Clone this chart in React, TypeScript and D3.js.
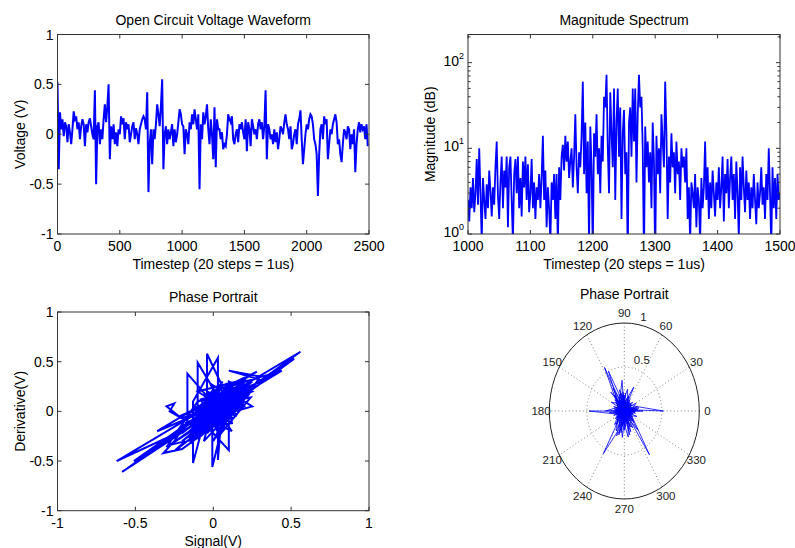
import React from 'react';
import * as d3 from 'd3';

// ---------------- DATA ----------------
const waveStep = 10; // timesteps between samples
const waveform = [
  0.52, -0.35, 0.22, 0.05, 0.15, -0.02, 0.12, 0.08, -0.08, 0.1,
  0.02, -0.1, 0.05, 0.23, 0.15, 0.18, 0.05, 0.12, -0.05, 0.08,
  0.15, 0.1, -0.12, 0.1, 0.02, 0.12, 0.16, 0.08, 0.0, -0.05,
  0.44, -0.5, 0.08, 0.12, -0.1, 0.05, -0.05, 0.15, 0.3, 0.12,
  0.28, 0.5, -0.25, 0.08, -0.05, 0.1, -0.1, 0.02, -0.12, 0.05,
  0.0, 0.18, 0.1, 0.16, -0.05, 0.12, 0.05, 0.1, -0.08, 0.0,
  0.08, 0.12, -0.05, 0.06, 0.0, -0.1, 0.05, 0.1, 0.15, 0.18,
  0.15, 0.05, 0.42, -0.58, -0.1, 0.05, -0.3, 0.05, -0.05, 0.1,
  0.3, 0.2, 0.08, 0.28, 0.55, -0.35, 0.0, 0.08, -0.1, 0.05,
  -0.05, 0.02, 0.1, -0.12, 0.05, -0.08, 0.0, 0.12, 0.25, 0.2,
  0.1, 0.08, -0.2, 0.05, 0.0, -0.1, 0.12, 0.05, 0.2, 0.1,
  0.25, 0.15, 0.05, 0.2, -0.55, 0.1, -0.05, 0.22, 0.1, 0.18,
  0.3, 0.05, -0.1, 0.15, 0.0, -0.25, 0.27, -0.33, 0.15, 0.05,
  0.05, -0.05, 0.02, -0.15, -0.1, -0.12, 0.0, 0.2, 0.15, 0.12,
  0.18, -0.05, -0.1, 0.0, 0.05, -0.08, 0.1, 0.05, 0.12, 0.02,
  -0.05, 0.15, -0.17, 0.12, 0.05, -0.12, 0.15, 0.08, 0.0, 0.05,
  -0.05, 0.1, 0.15, 0.05, 0.12, -0.05, 0.08, 0.44, -0.25, 0.1,
  0.05, -0.05, 0.0, -0.1, 0.05, -0.08, 0.02, -0.15, -0.05, 0.08,
  0.05, 0.0, 0.12, 0.2, 0.1, 0.05, -0.05, 0.08, -0.15, -0.1,
  0.0, 0.05, -0.1, 0.1, 0.15, 0.24, -0.05, -0.3, -0.15, 0.0,
  0.1, 0.05, 0.15, 0.2, 0.18, 0.1, -0.05, -0.1, -0.2, -0.62,
  -0.2, 0.05, 0.1, -0.05, 0.18, 0.1, 0.15, -0.25, -0.1, 0.05,
  0.0, 0.1, 0.15, 0.2, 0.12, -0.1, -0.05, -0.2, -0.28, -0.1,
  0.05, 0.02, -0.05, 0.08, 0.05, -0.15, 0.0, -0.1, 0.05, -0.38,
  -0.1, 0.05, 0.12, 0.02, 0.1, 0.05, 0.08, -0.05, 0.1, -0.12,
];

const specStart = 1000;
const specStep = 2;
const spectrum = [
  2.5, 1.4, 3.5, 2.0, 4.5, 1.8, 3.0, 7.5, 2.2, 10,
  3.0, 0.8, 4.5, 2.5, 1.5, 3.8, 2.0, 5.5, 3.2, 1.6,
  3.5, 2.2, 6.0, 12, 2.8, 1.5, 4.0, 8.0, 2.0, 5.5,
  3.5, 8.0, 1.2, 6.0, 8.0, 2.5, 0.8, 5.0, 7.5, 3.0,
  8.0, 2.0, 4.5, 1.6, 7.0, 3.5, 8.0, 2.5, 6.5, 1.8,
  3.0, 7.5, 2.0, 4.0, 1.5, 3.5, 2.5, 5.0, 2.0, 4.5,
  14, 2.5, 5.5, 1.2, 3.5, 2.0, 0.8, 4.0, 2.5, 5.0,
  1.5, 5.0, 0.7, 6.0, 2.5, 8.0, 11, 5.5, 14, 7.0,
  12, 4.5, 7.0, 10, 3.5, 8.0, 25, 6.0, 3.0, 9.0,
  6.0, 14, 60, 5.0, 20, 3.0, 12, 0.7, 18, 6.0,
  0.6, 15, 8.0, 25, 5.0, 10, 3.0, 14, 7.0, 40,
  30, 72, 10, 3.0, 45, 15, 6.0, 50, 2.5, 20,
  50, 8.0, 30, 1.5, 15, 28, 5.0, 9.0, 0.5, 20,
  30, 8.0, 50, 12, 50, 4.0, 25, 72, 30, 40,
  10, 0.5, 18, 6.0, 12, 4.0, 9.0, 2.0, 20, 7.0,
  0.5, 14, 5.0, 10, 3.0, 25, 12, 6.0, 60, 15,
  1.5, 8.0, 4.0, 15, 6.0, 9.0, 3.0, 12, 5.0, 7.0,
  2.5, 10, 6.0, 8.0, 4.0, 10, 1.5, 3.5, 0.8, 4.0,
  3.0, 2.0, 5.0, 1.2, 3.5, 2.5, 0.8, 4.5, 2.0, 3.5,
  12, 2.5, 6.0, 1.5, 4.0, 2.0, 5.5, 3.0, 1.6, 4.0,
  2.5, 6.0, 2.0, 3.5, 8.0, 1.4, 5.0, 3.0, 7.5, 2.0,
  4.5, 8.0, 2.5, 5.0, 1.5, 7.0, 3.0, 0.9, 6.0, 2.5,
  8.0, 3.5, 1.8, 5.5, 2.5, 4.0, 1.5, 3.5, 2.0, 5.0,
  2.5, 1.3, 4.0, 2.0, 3.0, 6.0, 2.2, 3.5, 1.5, 5.0,
  2.5, 10, 3.0, 0.7, 6.0, 2.0, 4.5, 1.5, 5.0, 2.5,
  3.0,
];

// [signal, derivative]
const portraitPoints: [number, number][] = [
  [0.0, 0.0], [0.1, 0.15], [-0.05, -0.1], [0.15, 0.2], [0.05, 0.05], [-0.1, -0.15],
  [0.2, 0.25], [-0.15, -0.2], [0.56, 0.6], [-0.62, -0.5], [0.0, -0.05], [0.12, 0.1],
  [-0.08, 0.05], [0.05, -0.15], [0.2, 0.1], [-0.12, -0.25], [0.08, 0.18], [-0.04, 0.58],
  [-0.04, -0.1], [0.1, 0.05], [-0.15, -0.05], [0.25, 0.3], [-0.2, -0.3], [0.52, 0.53],
  [-0.585, -0.61], [0.05, 0.1], [-0.1, 0.49], [-0.1, -0.2], [0.15, 0.12], [0.0, -0.3],
  [0.18, 0.28], [-0.05, 0.0], [0.1, -0.1], [-0.166, 0.38], [-0.166, -0.1], [-0.25, -0.3],
  [-0.32, -0.42], [-0.2, -0.38], [0.0, -0.15], [0.22, 0.15], [0.3, 0.35], [0.1, 0.41],
  [0.32, 0.31], [0.15, 0.2], [-0.05, -0.05], [-0.13, -0.52], [-0.13, 0.1], [0.03, 0.54],
  [0.03, -0.49], [0.06, 0.08], [-0.2, -0.07], [-0.28, 0.0], [-0.25, 0.08], [-0.3, 0.05],
  [-0.22, -0.05], [0.0, 0.1], [0.2, 0.05], [0.12, 0.25], [-0.006, -0.56], [-0.006, 0.2],
  [0.44, 0.41], [-0.51, -0.5], [-0.1, -0.05], [0.1, -0.39], [0.1, 0.3], [0.25, 0.2],
  [-0.36, -0.2], [0.28, 0.4], [-0.05, 0.15], [0.12, -0.2], [-0.15, 0.0], [0.18, 0.15],
  [-0.08, -0.25], [0.05, 0.25], [0.25, 0.05], [-0.2, -0.15], [0.0, 0.05], [0.15, -0.05],
  [-0.1, 0.2], [0.2, 0.32], [-0.15, -0.3], [0.08, -0.02], [-0.03, 0.12], [0.22, 0.22],
  [-0.12, -0.12], [0.0, 0.0],
  [-0.05, -0.08], [0.02, 0.1], [0.08, -0.05], [-0.02, 0.15], [0.12, 0.2], [0.05, -0.1],
  [-0.1, 0.0], [0.0, 0.22], [0.15, 0.05], [-0.08, -0.2], [0.06, 0.12], [0.18, 0.22],
  [-0.02, -0.18], [0.1, 0.0], [-0.12, -0.08], [0.04, 0.18], [0.14, -0.02], [-0.06, 0.08],
  [0.2, 0.18], [-0.04, -0.22], [0.08, 0.26], [0.12, -0.12], [-0.14, -0.18], [0.02, 0.04],
  [0.22, 0.28], [-0.1, -0.28], [0.06, 0.02], [-0.02, 0.28], [0.16, 0.1], [-0.16, -0.26],
  [0.0, -0.02], [0.1, 0.2], [-0.08, 0.12], [0.04, -0.24], [0.24, 0.14], [-0.12, 0.04],
  [0.02, -0.08], [0.14, 0.3], [-0.06, -0.14], [0.08, 0.06], [-0.18, -0.12], [0.18, 0.04],
  [-0.04, 0.2], [0.06, -0.18], [0.2, 0.3], [-0.14, -0.04], [0.0, 0.14], [0.12, -0.06],
  [-0.1, -0.22], [0.1, 0.14], [-0.02, -0.04], [0.16, 0.26], [-0.2, -0.22], [0.04, 0.08],
  [0.26, 0.24], [-0.06, -0.3], [0.02, 0.2], [0.14, 0.02], [-0.12, -0.16], [0.08, 0.22],
  [0.0, -0.12], [0.18, 0.12], [-0.08, 0.02], [0.06, 0.3], [-0.16, -0.3], [0.1, -0.02],
  [0.22, 0.18], [-0.04, -0.12], [0.04, 0.16], [-0.1, 0.1], [-0.3, -0.36], [0.2, 0.15],
  [-0.25, -0.4], [-0.18, -0.3], [-0.28, -0.34], [0.05, 0.02], [-0.03, 0.06], [0.12, 0.16],
  [-0.07, -0.02], [0.03, -0.06], [0.0, 0.0],
];

// [angle in degrees, radius]
const polarPoints: [number, number][] = [
  [0, 0.05], [185, 0.12], [20, 0.1], [200, 0.15], [40, 0.12], [220, 0.1], [60, 0.15],
  [250, 0.2], [90, 0.18], [270, 0.15], [118, 0.56], [300, 0.12], [140, 0.1], [320, 0.15],
  [160, 0.12], [340, 0.18], [180, 0.47], [0, 0.15], [200, 0.1], [30, 0.18], [240, 0.56],
  [70, 0.12], [260, 0.25], [100, 0.2], [304, 0.6], [120, 0.15], [330, 0.1], [150, 0.2],
  [0, 0.52], [170, 0.12], [10, 0.2], [190, 0.15], [45, 0.12], [230, 0.2], [80, 0.25],
  [280, 0.3], [115, 0.5], [310, 0.15], [135, 0.18], [350, 0.15], [175, 0.12], [355, 0.14],
  [210, 0.12], [65, 0.3], [245, 0.25], [95, 0.35], [275, 0.18], [125, 0.22], [295, 0.2],
  [150, 0.1], [5, 0.15], [195, 0.12], [25, 0.1], [225, 0.14], [55, 0.12], [255, 0.28],
  [85, 0.12], [285, 0.15], [105, 0.25], [315, 0.18], [130, 0.28], [335, 0.1], [160, 0.15],
  [345, 0.12], [185, 0.2], [15, 0.18], [215, 0.15], [35, 0.12], [235, 0.2], [75, 0.15],
  [265, 0.3], [110, 0.2], [300, 0.22], [140, 0.15], [325, 0.12], [170, 0.14], [0, 0.25],
  [190, 0.08], [20, 0.12], [250, 0.3], [90, 0.1], [290, 0.25], [120, 0.3], [310, 0.28],
  [145, 0.12], [5, 0.18], [180, 0.25], [40, 0.15], [220, 0.12], [60, 0.08], [270, 0.22],
  [100, 0.14], [280, 0.1], [110, 0.12], [290, 0.14], [95, 0.22], [275, 0.12], [80, 0.1],
  [260, 0.16], [70, 0.18], [255, 0.1], [120, 0.1], [300, 0.08], [150, 0.06], [330, 0.08],
  [10, 0.1], [200, 0.08], [30, 0.06], [240, 0.12], [100, 0.18], [285, 0.28], [115, 0.15],
  [265, 0.1], [85, 0.2], [250, 0.14], [60, 0.12], [230, 0.08], [45, 0.07], [215, 0.1],
  [350, 0.08], [170, 0.08], [0, 0.12], [180, 0.12], [90, 0.12], [270, 0.1], [0, 0.05],
];

const waveXTicks = [0, 500, 1000, 1500, 2000, 2500];
const unitTicks = [-1, -0.5, 0, 0.5, 1];
const specXTicks = [1000, 1100, 1200, 1300, 1400, 1500];
const specYTicks = [1, 10, 100];
const polarAngleTicks = [0, 30, 60, 90, 120, 150, 180, 210, 240, 270, 300, 330];
const polarRadTicks = [0.5, 1];

// ---------------- LAYOUT ----------------
const W = 795;
const H = 548;
const FONT = '"Liberation Sans", Arial, Helvetica, sans-serif';
const BLUE = '#0000ff';
const AX = '#333333';
const TL = 4;

const fmt = (v: number) => (v < 0 ? '-' : '') + String(Math.abs(v));

type FrameProps = {
  id: string;
  x: any;
  y: any;
  xTicks: number[];
  yTicks: number[];
  yMinor?: number[];
  yLabelSup?: boolean;
  title: string;
  xLabel: string;
  yLabel: string;
  children?: React.ReactNode;
};

function Frame({ id, x, y, xTicks, yTicks, yMinor, yLabelSup, title, xLabel, yLabel, children }: FrameProps) {
  const [x0, x1] = x.range();
  const [y0, y1] = y.range(); // y0 bottom, y1 top
  const cx = (x0 + x1) / 2;
  const cy = (y0 + y1) / 2;
  return (
    <g>
      <defs>
        <clipPath id={id}>
          <rect x={x0} y={y1} width={x1 - x0} height={y0 - y1} />
        </clipPath>
      </defs>
      <g clipPath={`url(#${id})`}>{children}</g>
      <rect x={x0} y={y1} width={x1 - x0} height={y0 - y1} fill="none" stroke={AX} strokeWidth={1} />
      {xTicks.map((t) => (
        <g key={'xt' + t}>
          <line x1={x(t)} x2={x(t)} y1={y0} y2={y0 - TL} stroke={AX} />
          <line x1={x(t)} x2={x(t)} y1={y1} y2={y1 + TL} stroke={AX} />
          <text x={x(t)} y={y0 + 17} textAnchor="middle" fontSize={14} fontFamily={FONT} fill="#000">
            {fmt(t)}
          </text>
        </g>
      ))}
      {yTicks.map((t) => (
        <g key={'yt' + t}>
          <line x1={x0} x2={x0 + TL} y1={y(t)} y2={y(t)} stroke={AX} />
          <line x1={x1} x2={x1 - TL} y1={y(t)} y2={y(t)} stroke={AX} />
          {yLabelSup ? (
            <text x={x0 - 4} y={y(t) + 3} textAnchor="end" fontSize={14} fontFamily={FONT} fill="#000">
              <tspan>10</tspan>
              <tspan dy={-7} fontSize={9}>{String(Math.round(Math.log10(t)))}</tspan>
            </text>
          ) : (
            <text x={x0 - 4} y={y(t) + 5} textAnchor="end" fontSize={14} fontFamily={FONT} fill="#000">
              {fmt(t)}
            </text>
          )}
        </g>
      ))}
      {(yMinor || []).map((t) => (
        <g key={'ym' + t}>
          <line x1={x0} x2={x0 + 2.5} y1={y(t)} y2={y(t)} stroke={AX} />
          <line x1={x1} x2={x1 - 2.5} y1={y(t)} y2={y(t)} stroke={AX} />
        </g>
      ))}
      <text x={cx} y={y1 - 10} textAnchor="middle" fontSize={14} fontFamily={FONT} fill="#000">
        {title}
      </text>
      <text x={cx} y={y0 + 35} textAnchor="middle" fontSize={14} fontFamily={FONT} fill="#000">
        {xLabel}
      </text>
      <text
        transform={`translate(${x0 - 33},${cy}) rotate(-90)`}
        textAnchor="middle"
        fontSize={14}
        fontFamily={FONT}
        fill="#000"
      >
        {yLabel}
      </text>
    </g>
  );
}

export default function App() {
  // Panel 1: waveform
  const x1 = d3.scaleLinear().domain([0, 2500]).range([57.5, 369]);
  const y1 = d3.scaleLinear().domain([-1, 1]).range([234, 34.5]);
  const waveLine = d3
    .line<number>()
    .x((_, i) => x1(i * waveStep))
    .y((d) => y1(d));

  // Panel 2: spectrum (log)
  const x2 = d3.scaleLinear().domain([1000, 1500]).range([468, 780]);
  const y2 = d3.scaleLog().domain([1, 213]).range([234, 34.5]);
  const specLine = d3
    .line<number>()
    .x((_, i) => x2(specStart + i * specStep))
    .y((d) => y2(d));
  const minor: number[] = [];
  [1, 10, 100].forEach((dec) => {
    for (let k = 2; k <= 9; k++) {
      const v = dec * k;
      if (v < 213) minor.push(v);
    }
  });

  // Panel 3: phase portrait
  const x3 = d3.scaleLinear().domain([-1, 1]).range([57.5, 369]);
  const y3 = d3.scaleLinear().domain([-1, 1]).range([510.7, 312]);
  const portLine = d3
    .line<[number, number]>()
    .x((d) => x3(d[0]))
    .y((d) => y3(d[1]));

  // Panel 4: polar
  const pcx = 624.3;
  const pcy = 411;
  const px = d3.scaleLinear().domain([0, 1]).range([0, 75]);
  const py = d3.scaleLinear().domain([0, 1]).range([0, 88]);
  const toXY = (deg: number, r: number): [number, number] => {
    const a = (deg * Math.PI) / 180;
    return [pcx + px(r * Math.cos(a)), pcy - py(r * Math.sin(a))];
  };
  const polarLine = d3
    .line<[number, number]>()
    .x((d) => toXY(d[0], d[1])[0])
    .y((d) => toXY(d[0], d[1])[1]);

  return (
    <svg
      width={W}
      height={H}
      viewBox={`0 0 ${W} ${H}`}
      style={{ position: 'absolute', left: 0, top: 0, background: '#fff' }}
    >
      <rect x={0} y={0} width={W} height={H} fill="#fff" />
      <Frame
        id="c1"
        x={x1}
        y={y1}
        xTicks={waveXTicks}
        yTicks={unitTicks}
        title="Open Circuit Voltage Waveform"
        xLabel="Timestep (20 steps = 1us)"
        yLabel="Voltage (V)"
      >
        <path d={waveLine(waveform) || ''} fill="none" stroke={BLUE} strokeWidth={2} />
      </Frame>
      <Frame
        id="c2"
        x={x2}
        y={y2}
        xTicks={specXTicks}
        yTicks={specYTicks}
        yMinor={minor}
        yLabelSup
        title="Magnitude Spectrum"
        xLabel="Timestep (20 steps = 1us)"
        yLabel="Magnitude (dB)"
      >
        <path d={specLine(spectrum) || ''} fill="none" stroke={BLUE} strokeWidth={1.8} />
      </Frame>
      <Frame
        id="c3"
        x={x3}
        y={y3}
        xTicks={unitTicks}
        yTicks={unitTicks}
        title="Phase Portrait"
        xLabel="Signal(V)"
        yLabel="Derivative(V)"
      >
        <path d={portLine(portraitPoints) || ''} fill="none" stroke={BLUE} strokeWidth={2} />
      </Frame>

      {/* Polar */}
      <g>
        {polarAngleTicks
          .filter((a) => a < 180)
          .map((a) => {
            const p1 = toXY(a, 1);
            const p2 = toXY(a + 180, 1);
            return (
              <line
                key={'sp' + a}
                x1={p1[0]}
                y1={p1[1]}
                x2={p2[0]}
                y2={p2[1]}
                stroke="#666"
                strokeWidth={0.8}
                strokeDasharray="1,2.5"
              />
            );
          })}
        {polarRadTicks.map((r) => (
          <ellipse
            key={'rc' + r}
            cx={pcx}
            cy={pcy}
            rx={px(r)}
            ry={py(r)}
            fill="none"
            stroke={r === 1 ? '#222' : '#666'}
            strokeWidth={r === 1 ? 1 : 0.8}
            strokeDasharray={r === 1 ? undefined : '1,2.5'}
          />
        ))}
        <path d={polarLine(polarPoints) || ''} fill="none" stroke={BLUE} strokeWidth={0.8} />
        {polarAngleTicks.map((a) => {
          const p = toXY(a, 1.11);
          return (
            <text
              key={'al' + a}
              x={p[0]}
              y={p[1] + 4}
              textAnchor="middle"
              fontSize={11.5}
              fontFamily={FONT}
              fill="#222"
            >
              {String(a)}
            </text>
          );
        })}
        {polarRadTicks.map((r) => {
          const p = toXY(80, r);
          return (
            <text key={'rl' + r} x={p[0] + 3} y={p[1] - 3.6} fontSize={11.5} fontFamily={FONT} fill="#222">
              {String(r)}
            </text>
          );
        })}
        <text x={pcx} y={299} textAnchor="middle" fontSize={14} fontFamily={FONT} fill="#000">
          Phase Portrait
        </text>
      </g>
    </svg>
  );
}
